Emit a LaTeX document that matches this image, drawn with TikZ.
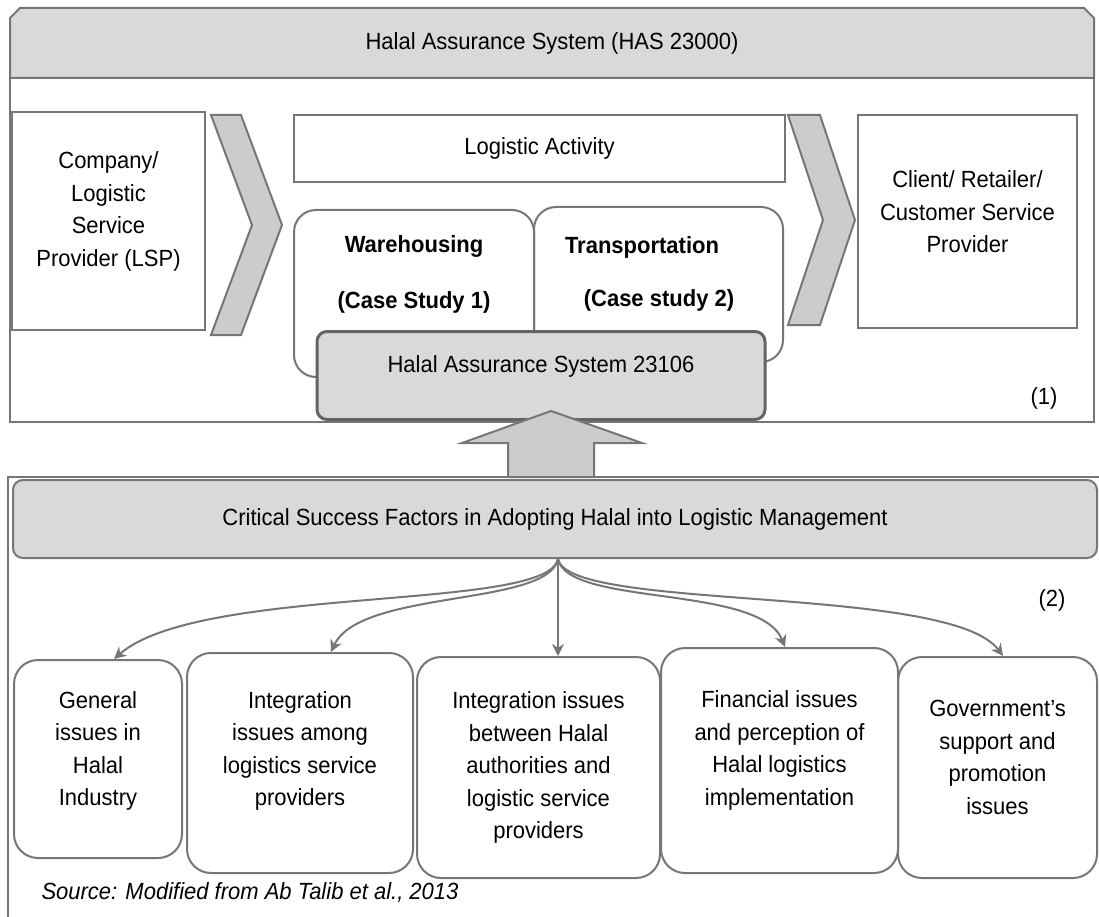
\documentclass[tikz,border=0pt]{standalone}
\usepackage{fontspec}
\setmainfont{Liberation Sans}[FakeStretch=0.94]
\usepackage{tikz}
\usetikzlibrary{arrows.meta}
\usetikzlibrary{positioning}

\definecolor{linegray}{RGB}{118,118,118}
\definecolor{edgegray}{RGB}{100,100,100}
\definecolor{boxgray}{RGB}{217,217,217}
\definecolor{chevgray}{RGB}{204,204,204}

\begin{document}
\begin{tikzpicture}[
    x=1pt, y=-1pt,
    >={Stealth[length=12pt,width=12pt]},
    every node/.style={font=\fontsize{23.4}{32.5}\selectfont},
    frameline/.style={draw=linegray, line width=2pt},
    plainbox/.style={rectangle, draw=linegray, line width=2pt, inner sep=0pt, align=center},
    roundbox/.style={plainbox, rounded corners=22pt},
    issue/.style={plainbox, rounded corners=24pt},
    greybox/.style={plainbox, fill=boxgray, rounded corners=10pt},
    chevron/.style={draw=linegray, line width=2pt, fill=chevgray},
    flow/.style={->, draw=linegray, line width=2pt},
    boldtext/.style={font=\fontsize{23.4}{32.5}\selectfont\bfseries},
    srctext/.style={font=\fontsize{23.4}{32.5}\selectfont\itshape}
]
\useasboundingbox (0,0) rectangle (1099,917);

% Frames
\filldraw[frameline, fill=boxgray] (10,78) -- (10,18) -- (20,8) -- (1084,8) -- (1094,18) -- (1094,78) -- cycle;
\draw[frameline] (10,78) -- (10,422) -- (1094,422) -- (1094,78);
\draw[frameline] (8,917) -- (8,477) -- (1099,477);

% Nodes (1)
\node (has) at (552,43) {Halal Assurance System (HAS 23000)};
\node[plainbox, minimum width=193pt, minimum height=218pt, text depth=24pt] (lsp) at (108.5,221) {Company/\\Logistic\\Service\\Provider (LSP)};
\node[plainbox, minimum width=491pt, minimum height=67pt] (logact) at (539.5,148.5) {Logistic Activity};
\node[plainbox, minimum width=219pt, minimum height=213pt, text depth=19pt] (client) at (967.5,221.5) {Client/ Retailer/\\Customer Service\\Provider};
\node[roundbox, minimum width=240pt, minimum height=167pt] (ware) at (414,293.5) {};
\node[roundbox, minimum width=249pt, minimum height=155pt] (trans) at (658.5,284.5) {};
\node[boldtext] (waretxt) at (414,247) {Warehousing};
\node[boldtext] (case1) at (414,302) {(Case Study 1)};
\node[boldtext] (transtxt) at (642,247) {Transportation};
\node[boldtext] (case2) at (659,300) {(Case study 2)};
\node[greybox, line width=3pt, draw=edgegray, minimum width=448pt,
      text height=41pt, text depth=47pt, anchor=north] (has2) at (541,330) {Halal Assurance System 23106};
\node (tag1) at (1044,398) {(1)};

% Chevrons and block arrow
\filldraw[chevron] (211,115) -- (241,115) -- (282,225) -- (241,335) -- (211,335) -- (252,225) -- cycle;
\filldraw[chevron] (788,115) -- (820,115) -- (855,220) -- (820,325) -- (788,325) -- (823,220) -- cycle;
\filldraw[chevron] (508,477) -- (508,443) -- (462,443) -- (551,411) -- (642,443) -- (594,443) -- (594,477) -- cycle;

% Nodes (2)
\node[greybox, minimum width=1084pt, minimum height=78pt] (csf) at (555,519) {Critical Success Factors in Adopting Halal into Logistic Management};
\coordinate (fork) at ([xshift=3pt]csf.south);
\node (tag2) at (1052,600) {(2)};
\node[issue, minimum width=168pt, minimum height=198pt, text depth=21pt] (b1) at (98,759) {General\\issues in\\Halal\\Industry};
\node[issue, minimum width=226pt, minimum height=220pt, text depth=29pt] (b2) at (300,763) {Integration\\issues among\\logistics service\\providers};
\node[issue, minimum width=243pt, minimum height=221pt] (b3) at (538.5,767.5) {Integration issues\\between Halal\\authorities and\\logistic service\\providers};
\node[issue, minimum width=237pt, minimum height=225pt, text depth=25pt] (b4) at (779.5,760.5) {Financial issues\\and perception of\\Halal logistics\\implementation};
\node[issue, minimum width=199pt, minimum height=221pt, text depth=20pt] (b5) at (997.5,767.5) {Government’s\\support and\\promotion\\issues};
\node[srctext, anchor=west] (source) at (38,893) {Source: Modified from Ab Talib et al., 2013};

% Edges
\draw[flow] (fork) .. controls +(-10,53) and +(86,-75) .. ([xshift=16pt]b1.north);
\draw[flow] (fork) .. controls +(-10,48) and +(29,-63) .. ([xshift=31pt]b2.north);
\draw[flow] (fork) -- (fork |- b3.north);
\draw[flow] (fork) .. controls +(10,48) and +(-25,-63) .. ([xshift=5.5pt]b4.north);
\draw[flow] (fork) .. controls +(10,53) and +(-53,-72) .. ([xshift=5.5pt]b5.north);

\end{tikzpicture}
\end{document}
